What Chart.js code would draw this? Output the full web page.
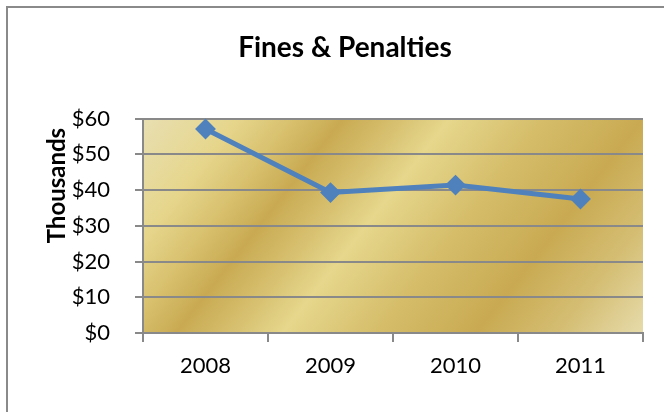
<!DOCTYPE html>
<html>
<head>
<meta charset="utf-8">
<script src="https://cdn.jsdelivr.net/npm/chart.js@4/dist/chart.umd.min.js"></script>
<style>
  html, body { margin: 0; padding: 0; background: #ffffff; }
  #wrap { width: 664px; height: 412px; }
</style>
</head>
<body>
<div id="wrap"><canvas id="c" width="664" height="412"></canvas></div>
<script>
// Annual fines & penalties, in thousands of dollars
const years = ['2008', '2009', '2010', '2011'];
const finesThousands = [57.1, 39.3, 41.4, 37.5];
const yTickValues = [0, 10, 20, 30, 40, 50, 60];

const FONT = 'Lato, "Open Sans", sans-serif';
const GRID_GRAY = '#898989';

// Gold texture behind the plot: diagonal light/dark bands
function goldFill(ctx, area) {
  const len = (area.right - area.left) * 0.788 + (area.bottom - area.top) * 0.615;
  const g = ctx.createLinearGradient(area.left, area.top,
    area.left + 0.788 * len, area.top + 0.615 * len);
  g.addColorStop(0.00, '#e8dfb2');
  g.addColorStop(0.14, '#e6d68c');
  g.addColorStop(0.22, '#d9c270');
  g.addColorStop(0.30, '#c9aa52');
  g.addColorStop(0.38, '#d6bf6e');
  g.addColorStop(0.46, '#e6d78c');
  g.addColorStop(0.60, '#d5bd6a');
  g.addColorStop(0.75, '#c9aa52');
  g.addColorStop(0.87, '#d4bd72');
  g.addColorStop(1.00, '#e6dbaa');
  return g;
}

const decor = {
  id: 'decor',
  beforeDraw(chart) {
    const { ctx, chartArea: a } = chart;
    ctx.save();
    // outer frame
    ctx.strokeStyle = '#8a8a8a';
    ctx.lineWidth = 2;
    ctx.strokeRect(7, 7, 720, 480);
    // plot area
    ctx.fillStyle = goldFill(ctx, a);
    ctx.fillRect(a.left, a.top, a.right - a.left, a.bottom - a.top);
    ctx.restore();
  },
  afterDraw(chart) {
    const { ctx, chartArea: a } = chart;
    // display-units label beside the value axis
    ctx.save();
    ctx.translate(57, a.top + 67);
    ctx.rotate(-Math.PI / 2);
    ctx.fillStyle = '#000000';
    ctx.font = 'bold 24px ' + FONT;
    ctx.textAlign = 'center';
    ctx.textBaseline = 'middle';
    ctx.fillText('Thousands', 0, 0);
    ctx.restore();
  }
};

new Chart(document.getElementById('c'), {
  type: 'line',
  data: {
    labels: years,
    datasets: [{
      label: 'Fines & Penalties',
      data: finesThousands,
      borderColor: '#4f81bd',
      backgroundColor: '#4f81bd',
      borderWidth: 5,
      pointStyle: 'rectRot',
      pointRadius: 9,
      pointBorderWidth: 2,
      pointBorderColor: '#4f81bd',
      pointBackgroundColor: '#4f81bd',
      tension: 0,
      clip: false
    }]
  },
  options: {
    responsive: false,
    animation: false,
    devicePixelRatio: 1,
    layout: { padding: { left: 47, right: 21, top: 0, bottom: 0 } },
    plugins: {
      legend: { display: false },
      tooltip: { enabled: false },
      title: {
        display: true,
        text: 'Fines & Penalties',
        color: '#000000',
        font: { family: FONT, size: 28, weight: 'bold' },
        padding: { top: 31, bottom: 54 }
      }
    },
    scales: {
      x: {
        type: 'category',
        offset: true,
        afterFit(s) { s.height = 79; },
        grid: {
          offset: true,
          drawOnChartArea: false,
          drawTicks: true,
          tickLength: 9,
          color: GRID_GRAY,
          lineWidth: 2
        },
        border: { display: true, color: GRID_GRAY, width: 2 },
        ticks: {
          color: '#000000',
          padding: 11,
          font: { family: FONT, size: 22 }
        }
      },
      y: {
        min: 0,
        max: 60,
        afterFit(s) { s.width = 96; },
        afterBuildTicks(s) { s.ticks = yTickValues.map(v => ({ value: v })); },
        grid: {
          color: GRID_GRAY,
          lineWidth: 2,
          drawTicks: true,
          tickLength: 8
        },
        border: { display: true, color: GRID_GRAY, width: 2 },
        ticks: {
          color: '#000000',
          padding: 25,
          font: { family: FONT, size: 22 },
          callback: v => '$' + v
        }
      }
    }
  },
  plugins: [decor]
});
</script>
</body>
</html>
